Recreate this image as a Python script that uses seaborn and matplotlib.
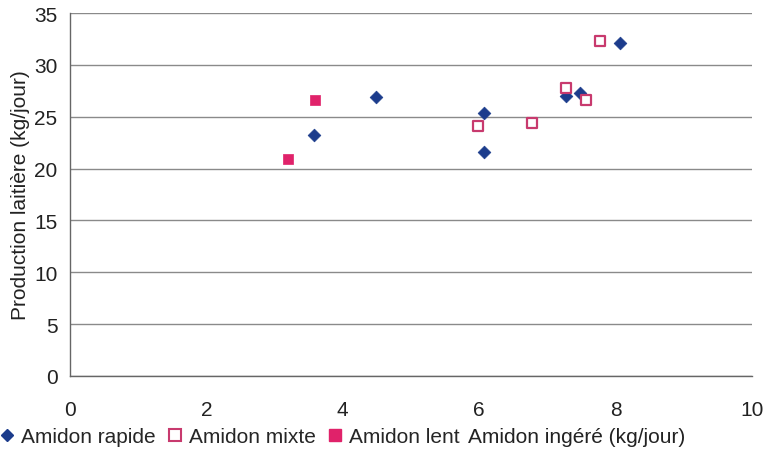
import matplotlib
matplotlib.use("Agg")
import matplotlib.pyplot as plt
import seaborn as sns
import pandas as pd
from matplotlib.lines import Line2D

rapide_x = [3.58, 4.49, 6.07, 6.07, 7.27, 7.48, 8.06]
rapide_y = [23.2, 26.9, 25.4, 21.6, 27.0, 27.3, 32.1]
mixte_x = [5.98, 6.77, 7.27, 7.57, 7.77]
mixte_y = [24.1, 24.4, 27.8, 26.6, 32.3]
lent_x = [3.20, 3.59]
lent_y = [20.9, 26.6]
labels = ["Amidon rapide", "Amidon mixte", "Amidon lent"]
xticks = [0, 2, 4, 6, 8, 10]
yticks = [0, 5, 10, 15, 20, 25, 30, 35]

sns.set_theme(style="white")
plt.rcParams['font.family'] = ['Liberation Sans', 'DejaVu Sans']

blue = "#1c3c8c"
pink = "#e0226a"
pink_edge = "#c83a6e"
fs = 15

fig = plt.figure(figsize=(7.68, 4.52), dpi=100)
ax = fig.add_axes([70/768, 1-377/452, (752-70)/768, (377-14)/452])

df_r = pd.DataFrame({"x": rapide_x, "y": rapide_y})
df_m = pd.DataFrame({"x": mixte_x, "y": mixte_y})
df_l = pd.DataFrame({"x": lent_x, "y": lent_y})

sns.scatterplot(data=df_r, x="x", y="y", ax=ax, marker="D", s=42, color=blue, edgecolor=blue, linewidth=0.5, zorder=3)
sns.scatterplot(data=df_m, x="x", y="y", ax=ax, marker="s", s=62, facecolor="white", edgecolor=pink_edge, linewidth=1.6, zorder=3)
sns.scatterplot(data=df_l, x="x", y="y", ax=ax, marker="s", s=62, color=pink, edgecolor=pink, linewidth=0.5, zorder=3)

ax.set_xlim(0, 10)
ax.set_ylim(0, 35)
ax.set_xticks(xticks)
ax.set_yticks(yticks)
ax.set_xticklabels([str(v) for v in xticks], fontsize=fs, color="#222222")
ax.set_yticklabels([str(v) for v in yticks], fontsize=fs, color="#222222")
ax.yaxis.grid(True, color="#8a8a8a", linewidth=1.0)
ax.xaxis.grid(False)
for s in ["top", "right"]:
    ax.spines[s].set_visible(False)
for s in ["left", "bottom"]:
    ax.spines[s].set_color("#666666")
    ax.spines[s].set_linewidth(1.0)
ax.tick_params(axis="y", direction="out", length=5, color="#666666", width=1, pad=4)
ax.tick_params(axis="x", direction="out", length=0, pad=17)
ax.set_xlabel("")
ax.set_ylabel("Production laitière (kg/jour)", fontsize=fs, color="#222222", labelpad=3)

handles = [
    Line2D([], [], marker="D", linestyle="none", markersize=6, color=blue),
    Line2D([], [], marker="s", linestyle="none", markersize=8, markerfacecolor="white", markeredgecolor=pink_edge, markeredgewidth=1.5),
    Line2D([], [], marker="s", linestyle="none", markersize=8, color=pink),
]
fig.legend(handles, labels, loc="center left", bbox_to_anchor=(0.0, 1-438/452), ncol=3, frameon=False,
           fontsize=fs, handlelength=0.7, handletextpad=0.3, columnspacing=0.6, borderpad=0, borderaxespad=0)
fig.text(468/768, 1-438/452, "Amidon ingéré (kg/jour)", fontsize=fs, va="center", ha="left", color="#222222")

fig.savefig("out.png", dpi=100)
